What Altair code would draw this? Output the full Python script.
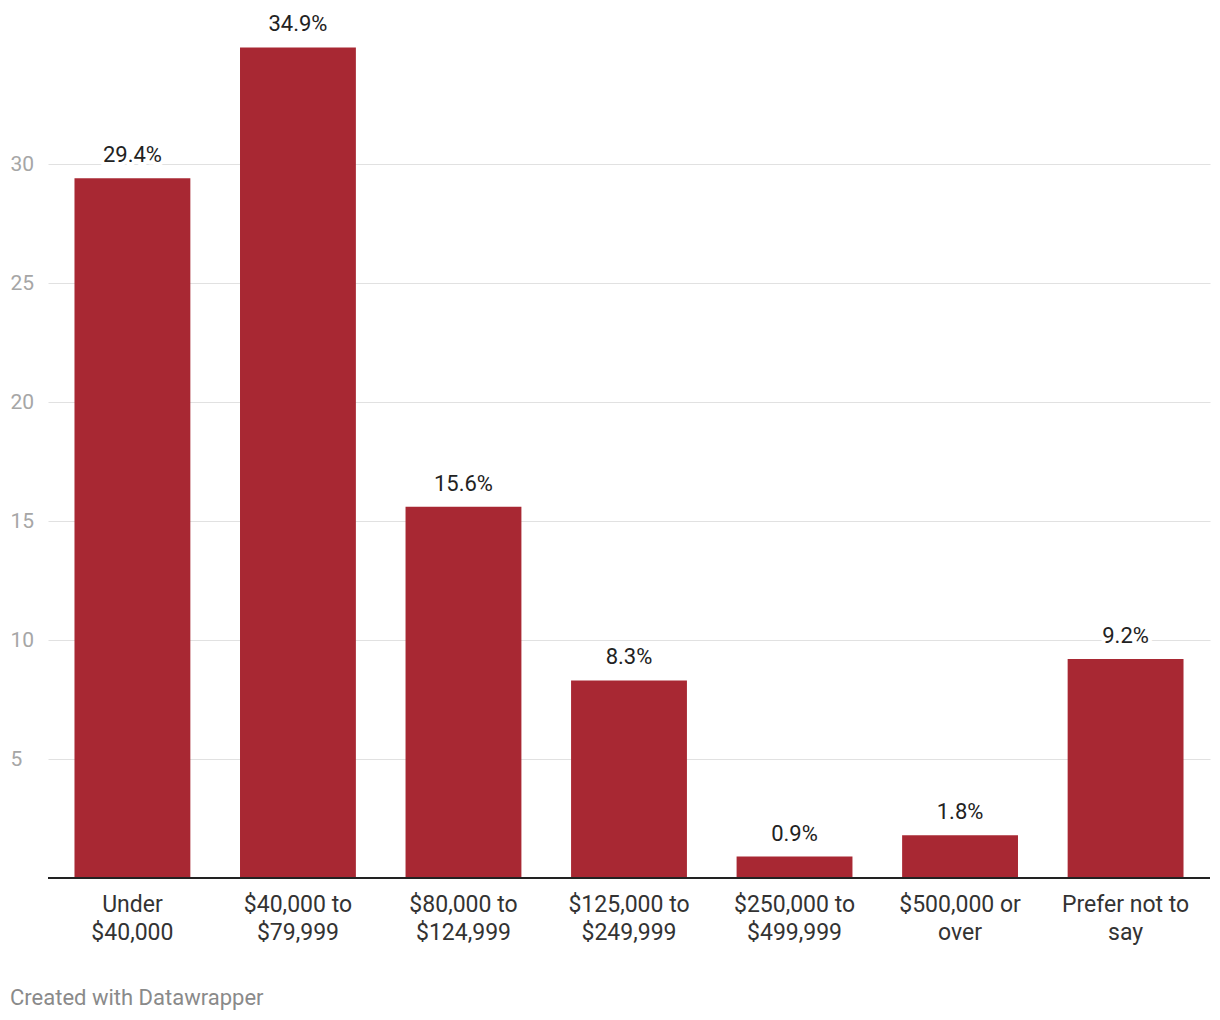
import altair as alt
import pandas as pd

categories = [
    "Under\n$40,000",
    "$40,000 to\n$79,999",
    "$80,000 to\n$124,999",
    "$125,000 to\n$249,999",
    "$250,000 to\n$499,999",
    "$500,000 or\nover",
    "Prefer not to\nsay",
]
values = [29.4, 34.9, 15.6, 8.3, 0.9, 1.8, 9.2]
y_ticks = [5, 10, 15, 20, 25, 30]

df = pd.DataFrame({"cat": categories, "val": values})
df["label"] = [f"{v:.1f}%" for v in values]

BAR = "#a82833"
FONT = "Roboto"

x_scale = alt.Scale(paddingInner=0.30, paddingOuter=0.16)
y_scale = alt.Scale(domain=[0, 35], nice=False, zero=True)

x_enc = alt.X(
    "cat:N",
    sort=categories,
    title=None,
    scale=x_scale,
    axis=alt.Axis(
        labelExpr="split(datum.label, '\\n')",
        labelAngle=0,
        labelFontSize=23,
        labelFont=FONT,
        labelColor="#333333",
        labelLineHeight=28,
        labelPadding=15,
        labelBaseline="top",
        ticks=False,
        domain=False,
        labelLimit=300,
    ),
)

base = alt.Chart(df)

bars = base.mark_bar(color=BAR).encode(
    x=x_enc,
    y=alt.Y(
        "val:Q",
        scale=y_scale,
        title=None,
        axis=alt.Axis(
            values=y_ticks,
            labelAlign="left",
            labelPadding=38,
            labelFontSize=21,
            labelFont=FONT,
            labelColor="#a6a6a6",
            gridColor="#e1e1e1",
            gridWidth=1,
            ticks=False,
            domain=False,
        ),
    ),
)

baseline = base.mark_rule(color="#222222", strokeWidth=2).encode(
    y=alt.datum(0),
)

txt_x = alt.X("cat:N", sort=categories)
txt_y = alt.Y("val:Q", scale=y_scale)

halo = base.mark_text(
    baseline="alphabetic", dy=-16, fontSize=22, font=FONT,
    color="white", stroke="white", strokeWidth=8, strokeJoin="round",
).encode(x=txt_x, y=txt_y, text="label:N")

labels = base.mark_text(
    baseline="alphabetic", dy=-16, fontSize=22, font=FONT, color="#222222",
).encode(x=txt_x, y=txt_y, text="label:N")

chart = (
    alt.layer(bars, baseline, halo, labels)
    .properties(
        width=1162,
        height=833,
        background="white",
        padding={"left": 48, "top": 45, "right": 10, "bottom": 142},
        autosize=alt.AutoSizeParams(type="none"),
        title=alt.TitleParams(
            "Created with Datawrapper",
            orient="bottom",
            anchor="start",
            frame="group",
            dx=-38,
            offset=44,
            fontSize=22,
            font=FONT,
            fontWeight="normal",
            color="#8a8a8a",
        ),
    )
    .configure_view(strokeWidth=0)
)

chart.save("out.html", embed_options={"renderer": "svg", "actions": False})
